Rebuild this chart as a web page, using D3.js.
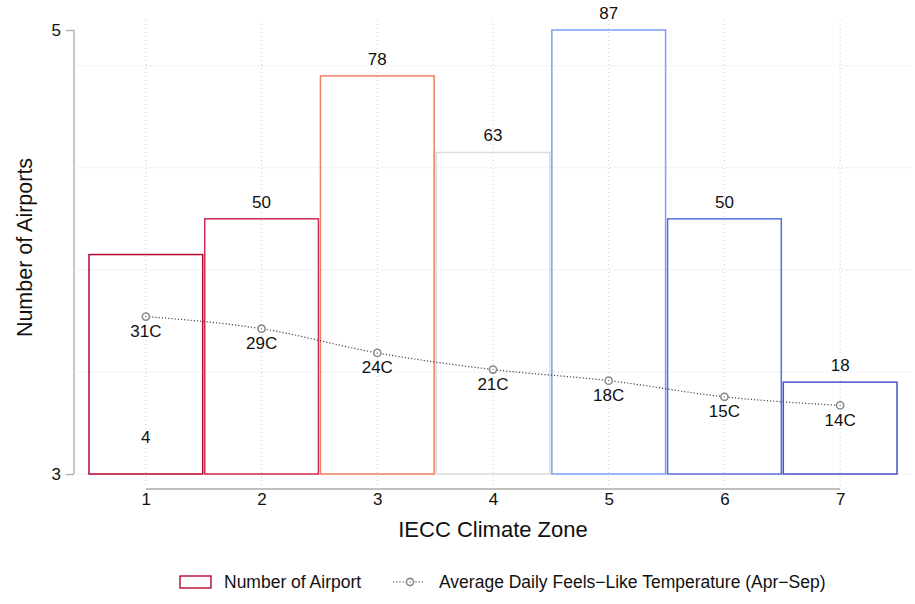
<!DOCTYPE html>
<html>
<head>
<meta charset="utf-8">
<script src="https://cdn.jsdelivr.net/npm/d3@7"></script>
<style>
  body { margin: 0; background: #fff; }
  svg { font-family: "Liberation Sans", Arial, sans-serif; }
</style>
</head>
<body>
<div id="chart"></div>
<script>
// data
const zones = [1, 2, 3, 4, 5, 6, 7];
const barHeights = [43, 50, 78, 63, 87, 50, 18];
const barLabels = [4, 50, 78, 63, 87, 50, 18];
const temps = [31.2, 28.8, 24.0, 20.7, 18.5, 15.3, 13.6];
const tempLabels = ['31C', '29C', '24C', '21C', '18C', '15C', '14C'];
const barColors = ['#b5082e', '#cc2c52', '#ee8062', '#dcdcdc', '#7d9ef7', '#5a6de0', '#4253cc'];
const yTicks = [3, 5];
const gridCounts = [0, 20, 40, 60, 80];

const width = 915, height = 604;
const fontFam = '"Liberation Sans", Arial, sans-serif';

const svg = d3.select('#chart').append('svg')
  .attr('width', width)
  .attr('height', height);

let x = d3.scaleLinear().domain([0.5, 7.5]).range([88, 898]);
let y = d3.scaleLinear().domain([3, 5]).range([474, 30]);
let count = d3.scaleLinear().domain([0, 87]).range([474, 30]);
let temp = d3.scaleLinear().domain([0, 44]).range([474, 252]);

// grid
let grid = svg.append('g').attr('stroke', '#cfcfcf').attr('stroke-width', 1)
  .attr('stroke-dasharray', '1,3');
grid.selectAll('.vg').data(zones).enter().append('line')
  .attr('x1', d => x(d)).attr('x2', d => x(d))
  .attr('y1', 20).attr('y2', 488);
grid.selectAll('.hg').data(gridCounts).enter().append('line')
  .attr('x1', 78).attr('x2', 911)
  .attr('y1', d => count(d)).attr('y2', d => count(d));

// bars
svg.selectAll('.bar').data(zones).enter().append('rect')
  .attr('x', d => x(d - 0.5) + 1)
  .attr('y', (d, i) => count(barHeights[i]))
  .attr('width', d => x(d + 0.5) - x(d - 0.5) - 2)
  .attr('height', (d, i) => count(0) - count(barHeights[i]))
  .attr('fill', 'none')
  .attr('stroke', (d, i) => barColors[i])
  .attr('stroke-width', 1.5);

svg.selectAll('.blab').data(zones).enter().append('text')
  .attr('x', d => x(d))
  .attr('y', (d, i) => count(barLabels[i]) - 11)
  .attr('text-anchor', 'middle')
  .attr('font-size', 17)
  .attr('fill', '#111')
  .text((d, i) => barLabels[i]);

// y axis
let yAxis = svg.append('g').attr('transform', 'translate(74,0)')
  .call(d3.axisLeft(y).tickValues(yTicks).tickSize(8).tickPadding(5).tickFormat(d3.format('d')));
yAxis.select('.domain').attr('stroke', '#aaa').attr('stroke-width', 1.3)
  .attr('d', 'M0,' + y(5) + 'V' + y(3));
yAxis.selectAll('.tick line').attr('stroke', '#aaa').attr('stroke-width', 1.3);
yAxis.selectAll('.tick text').attr('font-size', 17).attr('fill', '#111')
  .attr('font-family', fontFam);

// x axis
let xAxis = svg.append('g').attr('transform', 'translate(0,489)')
  .call(d3.axisBottom(x).tickValues(zones).tickSize(0).tickPadding(4).tickFormat(d3.format('d')));
xAxis.select('.domain').attr('stroke', '#aaa').attr('stroke-width', 1.5)
  .attr('d', 'M' + x(1) + ',0H' + x(7));
xAxis.selectAll('.tick text').attr('font-size', 17).attr('fill', '#111')
  .attr('font-family', fontFam);

svg.append('text')
  .attr('x', 493).attr('y', 537)
  .attr('text-anchor', 'middle')
  .attr('font-size', 22)
  .attr('fill', '#111')
  .text('IECC Climate Zone');

svg.append('text')
  .attr('transform', 'translate(31.5,247.5)rotate(-90)')
  .attr('text-anchor', 'middle')
  .attr('font-size', 21.5)
  .attr('fill', '#111')
  .text('Number of Airports');

// temperature line
let pts = zones.map((z, i) => [x(z), temp(temps[i])]);
svg.append('path')
  .attr('d', d3.line().curve(d3.curveMonotoneX)(pts))
  .attr('fill', 'none')
  .attr('stroke', '#444')
  .attr('stroke-width', 1.2)
  .attr('stroke-dasharray', '1.2,2');

let marker = (sel) => {
  sel.append('circle').attr('r', 3.6).attr('fill', '#fff')
    .attr('stroke', '#8a8a8a').attr('stroke-width', 1.6);
  sel.append('circle').attr('r', 0.8).attr('fill', '#8a8a8a');
};

svg.selectAll('.pt').data(pts).enter().append('g')
  .attr('transform', d => 'translate(' + d + ')')
  .call(marker);

svg.selectAll('.tlab').data(zones).enter().append('text')
  .attr('x', d => x(d))
  .attr('y', (d, i) => temp(temps[i]) + 20.5)
  .attr('text-anchor', 'middle')
  .attr('font-size', 17)
  .attr('fill', '#111')
  .text((d, i) => tempLabels[i]);

// legend
let legend = svg.append('g').attr('transform', 'translate(0,582)');
legend.append('rect')
  .attr('x', 180).attr('y', -6).attr('width', 31).attr('height', 12)
  .attr('fill', 'none').attr('stroke', barColors[0]).attr('stroke-width', 1.4);
legend.append('text')
  .attr('x', 224).attr('y', 6)
  .attr('font-size', 17.5).attr('fill', '#111')
  .text('Number of Airport');
legend.append('line')
  .attr('x1', 393).attr('x2', 425)
  .attr('stroke', '#444').attr('stroke-width', 1.2)
  .attr('stroke-dasharray', '1.2,2');
legend.append('g').attr('transform', 'translate(410,0)').call(marker);
legend.append('text')
  .attr('x', 439).attr('y', 6)
  .attr('font-size', 17.5).attr('fill', '#111')
  .text('Average Daily Feels\u2212Like Temperature (Apr\u2212Sep)');
</script>
</body>
</html>
